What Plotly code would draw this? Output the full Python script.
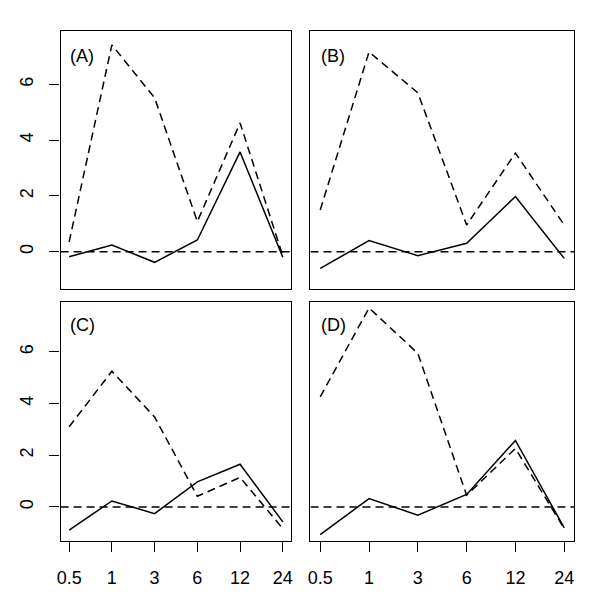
import plotly.graph_objects as go

x_labels = ["0.5", "1", "3", "6", "12", "24"]
x_pos = [1, 2, 3, 4, 5, 6]
panel_labels = ["(A)", "(B)", "(C)", "(D)"]

solid_A = [-0.18, 0.24, -0.38, 0.42, 3.58, -0.2]
dashed_A = [0.35, 7.42, 5.52, 1.08, 4.62, -0.15]
solid_B = [-0.6, 0.40, -0.14, 0.30, 1.98, -0.24]
dashed_B = [1.5, 7.17, 5.70, 0.96, 3.54, 0.96]
solid_C = [-0.9, 0.23, -0.26, 0.97, 1.65, -0.58]
dashed_C = [3.10, 5.25, 3.48, 0.41, 1.14, -0.84]
solid_D = [-1.07, 0.32, -0.32, 0.48, 2.57, -0.81]
dashed_D = [4.26, 7.70, 5.94, 0.45, 2.26, -0.84]

y_ticks = [0, 2, 4, 6]
reference_level = 0

W, H = 600, 604
xdoms = [[49 / W, 281.7 / W], [301 / W, 566.7 / W]]
ydoms = [[1 - 280.5 / H, 1 - 22.7 / H], [1 - 533 / H, 1 - 294 / H]]
label_y = [0.902, 0.905]

panels = [(solid_A, dashed_A), (solid_B, dashed_B), (solid_C, dashed_C), (solid_D, dashed_D)]

fig = go.Figure()
font = dict(family="Liberation Sans, Arial, Helvetica, sans-serif", size=18, color="black")
dash = "8px,5px"
lw = 1.5

for i, (s, d) in enumerate(panels):
    n = i + 1
    xa = "x" if n == 1 else f"x{n}"
    ya = "y" if n == 1 else f"y{n}"
    fig.add_trace(go.Scatter(x=x_pos, y=s, mode="lines", line=dict(color="black", width=lw),
                             xaxis=xa, yaxis=ya, showlegend=False))
    fig.add_trace(go.Scatter(x=x_pos, y=d, mode="lines", line=dict(color="black", width=lw, dash=dash),
                             xaxis=xa, yaxis=ya, showlegend=False))
    fig.add_trace(go.Scatter(x=[0.8, 6.2], y=[reference_level, reference_level], mode="lines",
                             line=dict(color="black", width=lw, dash=dash),
                             xaxis=xa, yaxis=ya, showlegend=False))
    col = i % 2
    row = i // 2
    xkey = "xaxis" if n == 1 else f"xaxis{n}"
    ykey = "yaxis" if n == 1 else f"yaxis{n}"
    bottom = row == 1
    left = col == 0
    fig.update_layout({
        xkey: dict(domain=xdoms[col], anchor=ya, range=[0.8, 6.2], showgrid=False, zeroline=False,
                   showline=True, linecolor="black", linewidth=1.3, mirror=True,
                   tickmode="array", tickvals=x_pos if bottom else [], ticktext=x_labels if bottom else [],
                   ticks="outside" if bottom else "", ticklen=10, tickwidth=1.3, tickcolor="black",
                   showticklabels=bottom, tickfont=font, ticklabelstandoff=10),
        ykey: dict(domain=ydoms[row], anchor=xa, range=[-1.32, 7.93], showgrid=False, zeroline=False,
                   showline=True, linecolor="black", linewidth=1.3, mirror=True,
                   tickmode="array", tickvals=y_ticks if left else [],
                   ticks="outside" if left else "", ticklen=10, tickwidth=1.3, tickcolor="black",
                   showticklabels=left, tickfont=font, tickangle=-90, ticklabelstandoff=9),
    })
    fig.add_annotation(x=0.034, y=label_y[row], xref=f"{xa} domain", yref=f"{ya} domain",
                       text=panel_labels[i], showarrow=False, xanchor="left", yanchor="middle", font=font)

fig.update_layout(width=W, height=H, margin=dict(l=0, r=0, t=0, b=0),
                  plot_bgcolor="white", paper_bgcolor="white")
fig.write_html("out.html")
